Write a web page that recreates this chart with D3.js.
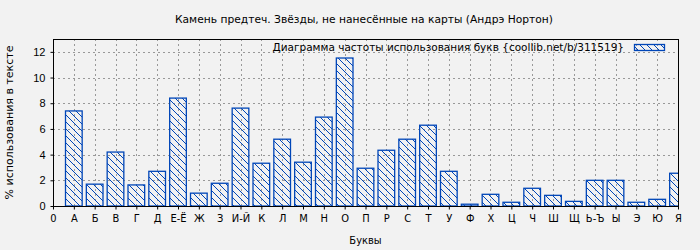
<!DOCTYPE html>
<html>
<head>
<meta charset="utf-8">
<script src="https://cdn.jsdelivr.net/npm/d3@7"></script>
<style>
  body { margin: 0; background: #f2f2f2; }
  svg { display: block; font-family: "DejaVu Sans", sans-serif; }
</style>
</head>
<body>
<div id="chart"></div>
<script>
// буквы и частоты (% в тексте)
const letters = ["0", "А", "Б", "В", "Г", "Д", "Е-Ё", "Ж", "З", "И-Й", "К", "Л", "М", "Н", "О", "П",
  "Р", "С", "Т", "У", "Ф", "Х", "Ц", "Ч", "Ш", "Щ", "Ь-Ъ", "Ы", "Э", "Ю", "Я"];
const freqs = [0, 7.4, 1.7, 4.2, 1.64, 2.7, 8.4, 1.0, 1.77, 7.62, 3.33, 5.2, 3.41, 6.92, 11.52, 2.94,
  4.34, 5.2, 6.29, 2.7, 0.14, 0.91, 0.29, 1.38, 0.83, 0.36, 2.0, 2.0, 0.29, 0.52, 2.55];
const yTicks = [0, 2, 4, 6, 8, 10, 12];

const width = 700, height = 250;
const margin = { left: 53, right: 22, top: 39, bottom: 44 };
const blue = "#0046b8";

const svg = d3.select("#chart").append("svg")
  .attr("width", width).attr("height", height);

svg.append("rect").attr("width", width).attr("height", height).attr("fill", "#f2f2f2");

// штриховка
const defs = svg.append("defs");
defs.append("pattern")
  .attr("id", "hatch")
  .attr("patternUnits", "userSpaceOnUse")
  .attr("width", 7).attr("height", 7)
  .append("path")
  .attr("d", "M-1,-1 L8,8 M-8,-1 L1,8 M6,-1 L15,8")
  .attr("stroke", blue).attr("stroke-width", 1);

defs.append("clipPath").attr("id", "plotclip")
  .append("rect")
  .attr("x", margin.left).attr("y", margin.top)
  .attr("width", width - margin.left - margin.right)
  .attr("height", height - margin.top - margin.bottom);

const x = d3.scaleLinear()
  .domain([0, letters.length - 1])
  .range([margin.left, width - margin.right]);
const y = d3.scaleLinear()
  .domain([0, 13])
  .range([height - margin.bottom, margin.top]);

const step = x(1) - x(0);
const barW = step * 0.8;

// сетка
const grid = svg.append("g").attr("stroke", "#999").attr("stroke-dasharray", "2,3").attr("stroke-width", 1);
grid.selectAll(".gx").data(d3.range(1, letters.length - 1)).enter().append("line")
  .attr("x1", d => Math.round(x(d)) + 0.5).attr("x2", d => Math.round(x(d)) + 0.5)
  .attr("y1", margin.top).attr("y2", height - margin.bottom);
grid.selectAll(".gy").data(yTicks.slice(1)).enter().append("line")
  .attr("x1", margin.left).attr("x2", width - margin.right)
  .attr("y1", d => Math.round(y(d)) + 0.5).attr("y2", d => Math.round(y(d)) + 0.5);

// столбцы
svg.append("g").attr("clip-path", "url(#plotclip)")
  .selectAll("rect").data(freqs).enter().append("rect")
  .attr("x", (d, i) => x(i) - barW / 2)
  .attr("y", d => y(d))
  .attr("width", barW)
  .attr("height", d => y(0) - y(d))
  .attr("fill", "url(#hatch)")
  .attr("stroke", blue)
  .attr("stroke-width", 1.3)
  .style("display", d => d > 0 ? null : "none");

// рамка
svg.append("rect")
  .attr("x", margin.left + 0.5).attr("y", margin.top + 0.5)
  .attr("width", width - margin.left - margin.right)
  .attr("height", height - margin.top - margin.bottom)
  .attr("fill", "none").attr("stroke", "#000").attr("stroke-width", 1);

// оси
const xAxis = d3.axisBottom(x).tickValues(d3.range(letters.length))
  .tickFormat(i => letters[i]).tickSizeOuter(0).tickSizeInner(3).tickPadding(5);
svg.append("g").attr("transform", `translate(0,${height - margin.bottom + 0.5})`)
  .call(xAxis)
  .call(g => g.select(".domain").remove())
  .selectAll("text").attr("font-size", 11).attr("fill", "#000")
  .attr("font-family", "'DejaVu Sans Condensed', 'DejaVu Sans', sans-serif");

const yAxis = d3.axisLeft(y).tickValues(yTicks).tickSizeOuter(0).tickSizeInner(3).tickPadding(5);
svg.append("g").attr("transform", `translate(${margin.left + 0.5},0)`)
  .call(yAxis)
  .call(g => g.select(".domain").remove())
  .selectAll("text").attr("font-size", 11).attr("fill", "#000");

// подписи
svg.append("text")
  .attr("x", 364).attr("y", 23)
  .attr("text-anchor", "middle").attr("font-size", 10.7)
  .text("Камень предтеч. Звёзды, не нанесённые на карты (Андрэ Нортон)");

svg.append("text")
  .attr("x", (margin.left + width - margin.right) / 2).attr("y", 244)
  .attr("text-anchor", "middle").attr("font-size", 11)
  .attr("font-family", "'DejaVu Sans Condensed', 'DejaVu Sans', sans-serif")
  .text("Буквы");

svg.append("text")
  .attr("transform", `translate(13,${(margin.top + height - margin.bottom) / 2}) rotate(-90)`)
  .attr("text-anchor", "middle").attr("font-size", 11)
  .text("% использования в тексте");

// легенда
svg.append("text")
  .attr("x", 624).attr("y", 51)
  .attr("text-anchor", "end").attr("font-size", 10.5)
  .text("Диаграмма частоты использования букв {coollib.net/b/311519}");
svg.append("rect")
  .attr("x", 634.5).attr("y", 44.5).attr("width", 30).attr("height", 6)
  .attr("fill", "url(#hatch)").attr("stroke", blue).attr("stroke-width", 1.3);
</script>
</body>
</html>
